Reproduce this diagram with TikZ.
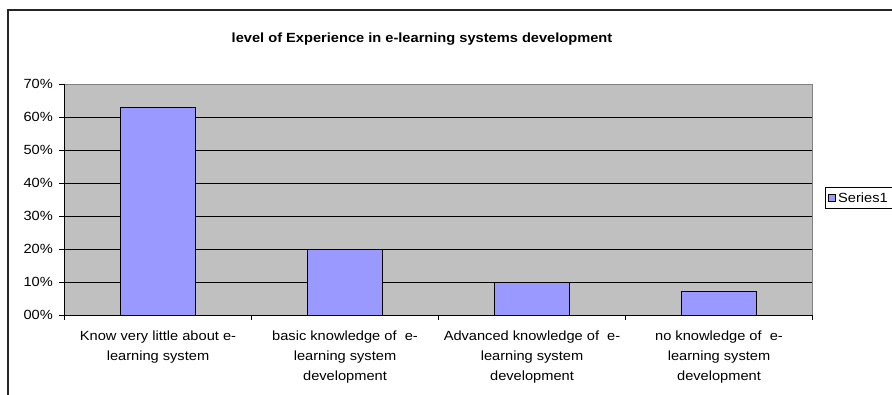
\documentclass[tikz,border=0pt]{standalone}
\usepackage{fontspec}
\setmainfont{Liberation Sans}[FakeStretch=1.1]
\definecolor{plotgray}{HTML}{C0C0C0}
\definecolor{barblue}{HTML}{9999FF}
\definecolor{bordergray}{HTML}{808080}
\begin{document}
\begin{tikzpicture}[x=1pt,y=-1pt,
    bar/.style={draw=black,fill=barblue,line width=0.9pt},
    grid/.style={draw=black,line width=0.9pt},
    ylabel/.style={anchor=east,inner sep=0pt,font=\fontsize{13.3}{15}\selectfont},
    catlabel/.style={anchor=north,align=center,inner sep=0pt,font=\fontsize{13.3}{20}\selectfont}]
  \useasboundingbox (0,0) rectangle (892,394);
  \clip (0,0) rectangle (892,394);
  \def \Bars{
    1/158/63/Know very little about e-\\learning system,
    2/345/20/basic knowledge of\ \ e-\\learning system\\development,
    3/532/10/Advanced knowledge of\ \ e-\\learning system\\development,
    4/719/7/no knowledge of\ \ e-\\learning system\\development}
  % chart frame
  \draw[line width=1.6pt,color=black!85] (8,400) -- (8,10) -- (900,10);
  \node[font=\bfseries\fontsize{13.3}{15}\selectfont] (title) at (422,39)
    {level of Experience in e-learning systems development};
  % plot area
  \fill[plotgray] (64,84) rectangle (812,315);
  \foreach \k in {1,...,6}{
    \path[grid] (64,315-33*\k) -- (812,315-33*\k);
  }
  \draw[bordergray,line width=0.9pt] (64,84) -- (812,84) -- (812,315);
  \foreach \id / \x / \v / \lb in \Bars{
    \draw[bar] (\x-37.5,315) rectangle (\x+37.5,315-3.3*\v);
    \node[catlabel] (cat\id) at (\x,331) {\lb};
  }
  % axes
  \draw[black,line width=0.9pt] (64,84) -- (64,315) -- (812,315);
  \foreach \k in {0,...,7}{
    \draw[black,line width=0.9pt] (59,315-33*\k) -- (64,315-33*\k);
    \node[ylabel] (y\k) at (53,315-33*\k) {\k0\%};
  }
  \foreach \i in {0,...,4}{
    \draw[black,line width=0.9pt] (64+187*\i,315) -- (64+187*\i,320);
  }
  % legend
  \draw[black,line width=0.9pt] (825,187) rectangle (900,208);
  \draw[black,fill=barblue,line width=0.6pt] (828.5,194) rectangle (835,201);
  \node[anchor=west,inner sep=0pt,font=\fontsize{13.3}{15}\selectfont] (legend) at (838,197.5) {Series1};
\end{tikzpicture}
\end{document}
